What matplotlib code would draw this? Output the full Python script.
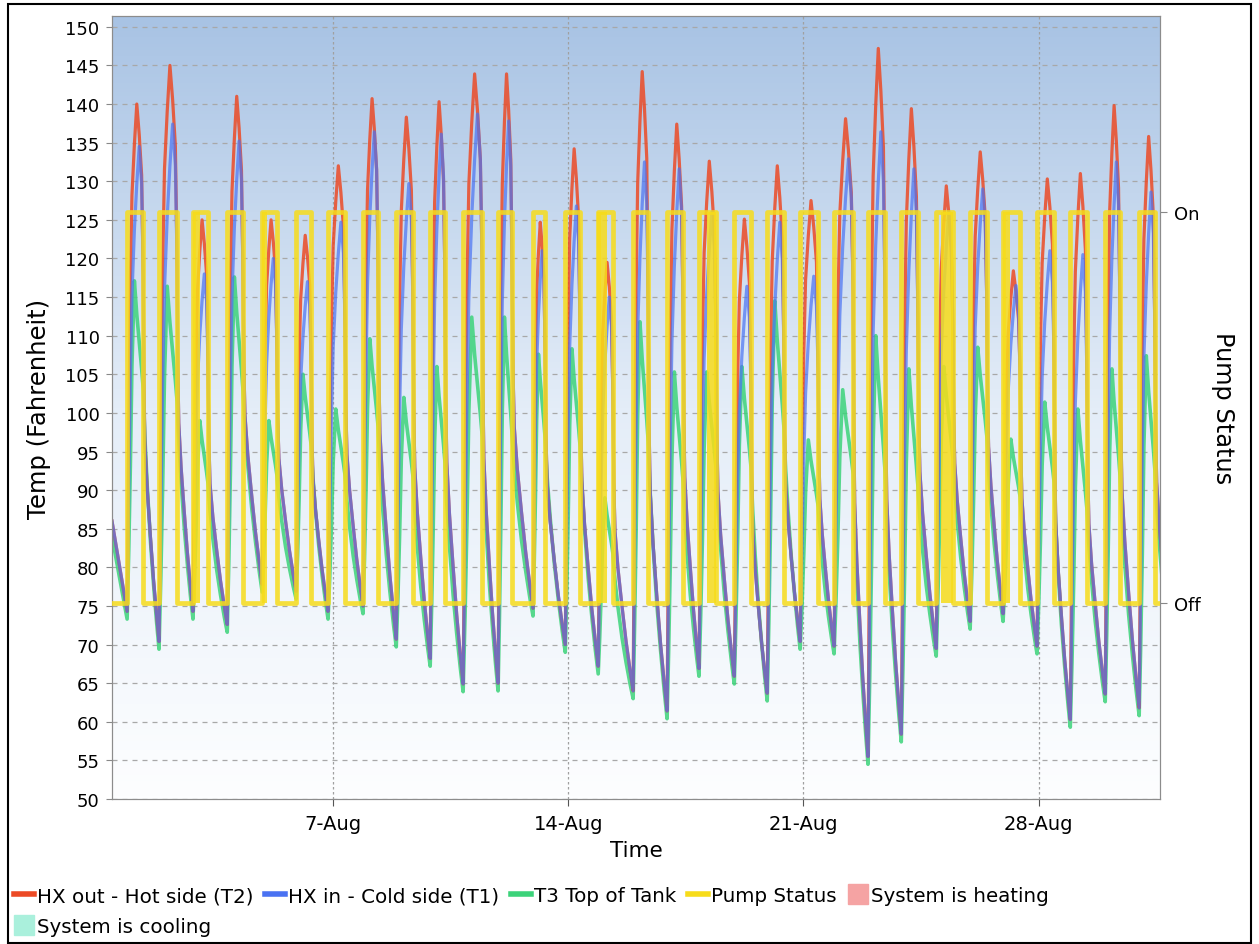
import numpy as np
import matplotlib.pyplot as plt
from matplotlib.colors import LinearSegmentedColormap
from matplotlib.lines import Line2D
from matplotlib.patches import Rectangle

# time axis: day of August, 7.0 = 7-Aug 00:00
X_START, X_END = 0.42, 31.61
Y_MIN, Y_MAX = 50.0, 151.4
TICK_DAYS = [7, 14, 21, 28]
TICK_LABELS = ["7-Aug", "14-Aug", "21-Aug", "28-Aug"]

# pump switches on / off each day (read from the yellow rectangles)
PUMP_ON = [0.87, 1.82, 2.83, 3.85, 4.89, 5.90, 6.85, 7.89, 8.88, 9.89,
           10.87, 11.91, 12.95, 13.91, 14.89, 15.93, 16.94, 17.89, 18.94, 19.92,
           20.90, 21.91, 22.92, 23.91, 24.95, 25.96, 26.94, 27.95, 28.94, 29.98, 30.99]
PUMP_OFF = [1.35, 2.36, 3.28, 4.32, 5.33, 6.35, 7.36, 8.34, 9.38, 10.33,
            11.44, 12.33, 13.31, 14.35, 15.33, 16.38, 17.42, 18.40, 19.44, 20.42,
            21.44, 22.48, 23.43, 24.41, 25.45, 26.46, 27.45, 28.46, 29.44, 30.42, 31.46]
# stretches where the pump cycled on/off quickly
PUMP_CYCLING = [(2.83, 3.04), (4.89, 5.03), (14.86, 15.15),
                (18.13, 18.40), (25.10, 25.45), (26.94, 27.15)]

# daily peaks (F)
T2_PEAK = [140.0, 145.0, 125.0, 141.0, 125.0, 123.0, 132.0, 140.7, 138.3, 140.3,
           143.9, 143.9, 124.7, 134.2, 119.5, 144.2, 137.4, 132.6, 125.1, 132.0,
           127.5, 138.1, 147.2, 139.4, 129.4, 133.8, 118.4, 130.3, 131.0, 139.8, 135.8]
T1_PEAK = [134.5, 137.4, 118.0, 135.2, 120.0, 117.0, 124.7, 136.4, 129.7, 136.1,
           138.7, 137.8, 121.0, 126.8, 115.0, 132.5, 131.6, 126.0, 116.4, 124.7,
           117.7, 132.9, 136.4, 131.6, 126.0, 129.0, 116.5, 121.0, 120.5, 132.5, 128.6]
T3_PEAK = [117.1, 116.4, 99.0, 117.6, 99.0, 105.0, 100.5, 109.6, 102.0, 106.0,
           112.4, 112.4, 107.6, 108.3, 89.0, 111.8, 105.3, 105.3, 106.0, 114.5,
           96.5, 103.0, 110.0, 105.7, 106.0, 108.5, 96.6, 101.4, 100.5, 105.7, 107.4]
# overnight minimum just before the pump starts
NIGHT_MIN = [73.3, 69.4, 73.3, 71.6, 76.8, 75.9, 73.3, 74.0, 69.7, 67.2,
             63.9, 64.0, 73.7, 69.0, 66.2, 63.0, 60.4, 65.9, 64.9, 62.7,
             69.4, 68.8, 54.5, 57.4, 68.5, 72.0, 73.0, 68.8, 59.3, 62.6, 60.8]
START_HX, START_T3 = 86.0, 84.0
NEXT_ON, END_MIN = 31.97, 67.0

# shape of one day (fractions of on / off period)
RISE_U = [0.0, 0.1, 0.2, 0.3, 0.45, 0.6, 0.75, 0.9]
T2_RISE = [0.0, 0.35, 0.65, 0.82, 0.92, 1.0, 0.94, 0.86]
T1_RISE = [0.0, 0.25, 0.5, 0.68, 0.82, 0.92, 1.0, 0.92]
T3_RISE = [0.0, 0.2, 0.45, 0.75, 1.0, 0.9, 0.82, 0.74]
DECAY_W = [0.0, 0.04, 0.1, 0.25, 0.45, 0.65, 0.85, 1.0]
HX_DECAY = [1.0, 0.72, 0.55, 0.42, 0.29, 0.17, 0.07, 0.0]
T3_DECAY = [1.0, 0.92, 0.82, 0.63, 0.42, 0.25, 0.1, 0.0]


def daily_curve(peak, rise, low, off_ref, off_level, decay, start_val, end_min):
    t, v = [X_START], [start_val]
    n = len(PUMP_ON)
    for i in range(n):
        on, off, lo = PUMP_ON[i], PUMP_OFF[i], low[i]
        for u, f in zip(RISE_U, rise):
            t.append(on + u * (off - on))
            v.append(lo + f * (peak[i] - lo))
        v_off = lo + off_level * (off_ref[i] - lo)
        nxt_on = PUMP_ON[i + 1] if i + 1 < n else NEXT_ON
        nxt_lo = low[i + 1] if i + 1 < n else end_min
        for w, f in zip(DECAY_W[:-1], decay[:-1]):
            t.append(off + w * (nxt_on - off))
            v.append(nxt_lo + f * (v_off - nxt_lo))
    t.append(NEXT_ON)
    v.append(end_min)
    return t, v


hx_low = [m + 1.0 for m in NIGHT_MIN]
t2_t, t2_v = daily_curve(T2_PEAK, T2_RISE, hx_low, T1_PEAK, 0.72, HX_DECAY,
                         START_HX, END_MIN + 1)
t1_t, t1_v = daily_curve(T1_PEAK, T1_RISE, hx_low, T1_PEAK, 0.72, HX_DECAY,
                         START_HX, END_MIN + 1)
t3_t, t3_v = daily_curve(T3_PEAK, T3_RISE, NIGHT_MIN, T3_PEAK, 0.68, T3_DECAY,
                         START_T3, END_MIN)

pump_t, pump_v = [X_START], [0]
for on, off in zip(PUMP_ON, PUMP_OFF):
    pump_t += [on, on, off, off]
    pump_v += [0, 1, 1, 0]
pump_t.append(X_END)
pump_v.append(0)

RED, BLUE, GREEN, YELLOW = "#EC4A25", "#4A72F2", "#3CD37A", "#F7DC1A"

fig = plt.figure(figsize=(12.59, 9.45), dpi=100)
ax = fig.add_axes([112 / 1259, 1 - 800 / 945, 1048 / 1259, 783 / 945])

# plot background gradient
cmap = LinearSegmentedColormap.from_list("bg", ["#FDFEFF", "#E4EDF8", "#A8C3E4"])
grad = np.linspace(0, 1, 256).reshape(-1, 1)
ax.imshow(grad, extent=[X_START, X_END, Y_MIN, Y_MAX], origin="lower",
          aspect="auto", cmap=cmap, zorder=0)

ax.plot(t3_t, t3_v, color=GREEN, lw=2.6, alpha=0.85, zorder=2)
ax.plot(t2_t, t2_v, color=RED, lw=2.3, alpha=0.85, zorder=3)
ax.plot(t1_t, t1_v, color=BLUE, lw=2.3, alpha=0.7, zorder=4)

ax.set_xlim(X_START, X_END)
ax.set_ylim(Y_MIN, Y_MAX)
ax.set_yticks(np.arange(50, 151, 5))
ax.set_xticks(TICK_DAYS)
ax.set_xticklabels(TICK_LABELS)
ax.tick_params(axis="y", labelsize=13, length=4, pad=5, color="#888888")
ax.tick_params(axis="x", labelsize=14, length=5, pad=6, color="#555555")
ax.grid(axis="y", color="#A8A8A8", ls=(0, (4, 4)), lw=0.9)
ax.grid(axis="x", color="#A0A0A0", ls=(0, (2, 2)), lw=0.9)
ax.set_axisbelow(True)
for s in ax.spines.values():
    s.set_color("#8C8C8C")

ax.set_ylabel("Temp (Fahrenheit)", fontsize=17.5)
ax.yaxis.set_label_coords(-0.058, 0.5)
ax.set_xlabel("Time", fontsize=15.5)
ax.xaxis.set_label_coords(0.5, -0.052)

# pump status on the right axis
ax2 = ax.twinx()
ax2.plot(pump_t, pump_v, color=YELLOW, lw=3.4, alpha=0.85, zorder=6)
for a, b in PUMP_CYCLING:
    ax2.fill_between([a, b], 0, 1, color=YELLOW, alpha=0.85, lw=0)
ax2.set_ylim(-0.5, 1.5)
ax2.set_xlim(X_START, X_END)
ax2.set_yticks([0, 1])
ax2.set_yticklabels(["Off", "On"])
ax2.tick_params(axis="y", labelsize=13, length=5, pad=5, color="#888888")
ax2.set_ylabel("Pump Status", fontsize=17.3, rotation=270, va="bottom")
ax2.yaxis.set_label_coords(1.049, 0.5)
for s in ax2.spines.values():
    s.set_color("#8C8C8C")

handles = [
    Line2D([], [], color=RED, lw=4),
    Line2D([], [], marker="s", ms=14, ls="none", color="#AAF0DC"),
    Line2D([], [], color=BLUE, lw=4),
    Line2D([], [], color=GREEN, lw=4),
    Line2D([], [], color=YELLOW, lw=4),
    Line2D([], [], marker="s", ms=14, ls="none", color="#F5A3A3"),
]
labels = ["HX out - Hot side (T2)", "System is cooling", "HX in - Cold side (T1)",
          "T3 Top of Tank", "Pump Status", "System is heating"]
fig.legend(handles, labels, loc="upper left", bbox_to_anchor=(0.011, 0.061),
           ncol=5, frameon=False, fontsize=14.3, handlelength=1.0,
           handletextpad=0.15, columnspacing=0.6, labelspacing=0.6,
           borderaxespad=0, borderpad=0)

fig.add_artist(Rectangle((8 / 1259, 1 / 945), 1243 / 1259, 939 / 945,
                         transform=fig.transFigure, fill=False,
                         ec="black", lw=1.5))

fig.savefig("out.png", dpi=100)
